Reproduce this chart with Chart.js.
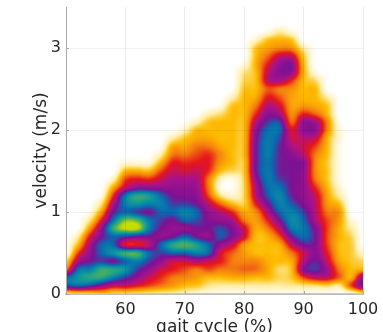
<!DOCTYPE html>
<html>
<head>
<meta charset="utf-8">
<script src="https://cdn.jsdelivr.net/npm/chart.js@4"></script>
<style>
	html, body { margin: 0; padding: 0; background: #fff; overflow: hidden; }
	#box { width: 383px; height: 332px; }
</style>
</head>
<body>
<div id="box"><canvas id="chartCanvas"></canvas></div>
<script>
// x 位置 (gait cycle %)
const gaitCycle = [50, 52, 54, 56, 58, 60, 62, 64, 66, 68, 70, 72, 74, 76, 78, 80, 82, 84, 86, 88, 90, 92, 94, 96, 98, 100];
// y 間距 (m/s),每欄第 i 個值對應 velocity = i * velocityStep
const velocityStep = 0.1;
const xTicks = [60, 70, 80, 90, 100];
const yTicks = [0, 1, 2, 3];

// 密度等級 0-10,從圖上估讀;每欄後面省略的都是 0
const density = [
	[1, 6.5, 7, 3, 1.5, 0],
	[1.5, 7, 8, 7, 5, 3.5, 2, 1, 0],
	[1.5, 6.5, 8.5, 7.5, 6, 5.5, 5, 4, 2.5, 1.2, 0.3],
	[2, 5.5, 8.5, 8.7, 6.5, 7, 7, 6, 5.5, 4, 2.5, 1.3, 0.4],
	[1.5, 4.5, 7.5, 8.5, 6, 8, 7, 7, 8.7, 7.2, 6, 5, 3.8, 2.3, 0.8],
	[1.5, 4.5, 6.5, 8, 7, 8.8, 4.2, 6.5, 10, 9.3, 7, 7.5, 7.3, 4.5, 3.5, 2, 0.5],
	[1.3, 4, 5.5, 6.5, 7.5, 8.8, 4.1, 6, 10, 9, 6.5, 8, 8.5, 5.5, 4, 2.2, 0.5],
	[1.2, 3.5, 4.5, 5.5, 6.5, 7, 4.8, 6, 7.5, 7.3, 6, 7.5, 8.2, 5.5, 3.8, 2, 0.5],
	[1, 3, 3.8, 4.5, 5.5, 6.5, 7, 5.5, 6, 6.5, 7, 7.5, 7, 5.5, 4.5, 3.5, 2.2, 1, 0.2],
	[1, 2.5, 3, 4, 4.5, 7, 8.5, 6, 5.5, 6, 7, 6.5, 6, 5.5, 5, 4.5, 4, 3, 2.3, 1],
	[0.8, 2, 2.8, 3.5, 4.5, 7, 9, 7, 5.5, 7, 7.6, 6.5, 5.8, 5.5, 5, 4.3, 3.8, 3, 2.3, 1.8, 0.8, 0.1],
	[0.5, 1.8, 2.5, 3, 5, 7.5, 8.3, 6, 6, 6.7, 7, 6, 5.6, 5.3, 5, 4.5, 4, 3.5, 3, 2.3, 2, 0.8],
	[0.4, 1.2, 2, 3.5, 4.5, 7, 7, 5.5, 6, 5.8, 5.5, 4.7, 3.5, 3, 3, 3.8, 4, 3.8, 3, 2.3, 2, 1.8, 0.8],
	[0.3, 1, 2, 3, 4, 4.3, 5.5, 6.8, 6.6, 5.5, 4.8, 3.2, 1.3, 0.4, 0.8, 2, 2.6, 2.8, 2.3, 2, 2, 2, 1.3, 0.3],
	[0.3, 1, 2.2, 3, 3, 3.3, 4.5, 5.8, 5.8, 5, 3.8, 2, 0.6, 0.2, 0.3, 1.5, 2, 2, 2, 2, 2, 2, 2, 1.8, 0.8, 0.1],
	[0.3, 1, 2.2, 3.2, 2.8, 2.5, 2.6, 4.3, 4.3, 3, 2.3, 1.6, 1.5, 1.5, 1.6, 1.8, 1.8, 2, 2, 2, 2, 2, 2, 2, 2, 1.8, 1.5, 1.2, 0.4],
	[0.3, 1, 2, 3.1, 2.8, 2, 2, 2, 2.3, 2.5, 2.8, 4, 4.8, 5, 5.5, 6, 6, 6, 6, 5.8, 5.5, 4.8, 3.8, 3, 2.3, 2, 2, 2, 2.2, 2, 1.8, 0.7],
	[0.3, 1, 2, 2.3, 2.2, 2, 2, 2.2, 3, 4, 5, 6, 6.8, 7.1, 7.3, 7.3, 7.2, 7.4, 7.4, 7.3, 7.1, 6.4, 5.6, 4.8, 4, 3.4, 4.6, 4.6, 4, 3.2, 2.4, 1.8, 0.3],
	[0.2, 1, 1.5, 1.4, 2, 2, 2.3, 3.5, 4.8, 6, 7, 7.5, 7.6, 7.2, 6.5, 6.2, 6.2, 6.2, 6.3, 6.6, 7, 6.5, 5, 4.2, 3.4, 3, 5, 5.7, 5.5, 4.5, 2.8, 2.1, 1],
	[0.2, 1.1, 1.8, 2, 2.3, 3, 4.5, 6, 7.3, 7.7, 7.5, 6.8, 6.2, 6, 6, 6, 6, 5.6, 5, 4.5, 4.2, 3.2, 2.7, 2.4, 2.4, 2.7, 3.8, 5.5, 5.7, 4.5, 2.7, 1.8, 0.4],
	[0.2, 1.2, 3.5, 5.6, 4.8, 4.5, 6, 7.1, 7.3, 7, 6.5, 5.8, 5.5, 5.5, 5.5, 5.5, 5.7, 4.7, 4.5, 4.8, 5.6, 5.4, 3.8, 2.5, 2.1, 2, 2, 2.2, 2.1, 1.8, 1],
	[0.2, 1.3, 4.5, 6.4, 6.1, 5.6, 5.8, 6, 5.8, 5, 4.8, 4.7, 4.5, 3.8, 3, 2.8, 2.8, 3, 3.6, 4.5, 5.6, 5.1, 3.2, 2.3, 2, 2, 1.4, 0.4],
	[0.1, 1.5, 4.5, 5.2, 4.5, 4, 3.6, 3.5, 3.6, 3.5, 3, 2.6, 2.4, 2.1, 1.8, 1.8, 1.7, 1.9, 2, 2.2, 2.8, 2.8, 2, 1.8, 1, 0.1],
	[0, 1.1, 3.3, 3, 2.4, 2.1, 2, 2.2, 2.2, 2.5, 2.6, 1.9, 1, 0.6, 0.3, 0.3, 0.3, 0.3, 0.3, 0.5, 0.5, 0.2],
	[0.2, 3.5, 2.2, 2, 1.8, 1.7, 1.7, 1.5, 1, 0.5, 0.1],
	[1.2, 5.8, 5.5, 2.2, 1.5, 0.6]
];

// 色階,對應等級 0-10
const colorStops = [
	[255, 255, 255], [255, 238, 170], [253, 187, 0], [244, 122, 16], [230, 21, 27],
	[168, 18, 138], [125, 17, 147], [10, 104, 176], [10, 149, 160], [74, 176, 96], [200, 220, 0]
];

function cubic(a, b, c, d, t) {
	return b + 0.5 * t * (c - a + t * (2 * a - 5 * b + 4 * c - d + t * (3 * (b - c) + d - a)));
}

function cell(i, j) {
	const col = density[Math.max(0, Math.min(density.length - 1, i))];
	return j < 0 ? col[0] : col[j] || 0;
}

// 依資料座標取密度等級
function levelAt(x, v) {
	const fx = (x - gaitCycle[0]) / (gaitCycle[1] - gaitCycle[0]);
	const fy = v / velocityStep;
	const i = Math.floor(fx);
	const j = Math.floor(fy);
	const rows = [];
	for (let k = -1; k <= 2; k++) {
		rows.push(cubic(cell(i - 1, j + k), cell(i, j + k), cell(i + 1, j + k), cell(i + 2, j + k), fx - i));
	}
	return cubic(rows[0], rows[1], rows[2], rows[3], fy - j);
}

// 用 scale 把每個像素換回資料座標再上色
const heatPlugin = {
	id: "heat",
	beforeDatasetsDraw(chart) {
		const { ctx, chartArea: area, scales } = chart;
		const w = Math.round(area.right - area.left);
		const h = Math.round(area.bottom - area.top);
		const img = ctx.createImageData(w, h);
		for (let py = 0; py < h; py++) {
			const v = scales.y.getValueForPixel(area.top + py + 0.5);
			for (let px = 0; px < w; px++) {
				const x = scales.x.getValueForPixel(area.left + px + 0.5);
				const lv = Math.max(0, Math.min(9.999, levelAt(x, Math.max(0, v))));
				const n = Math.floor(lv);
				const t = lv - n;
				const o = (py * w + px) * 4;
				for (let c = 0; c < 3; c++) {
					img.data[o + c] = colorStops[n][c] + (colorStops[n + 1][c] - colorStops[n][c]) * t;
				}
				img.data[o + 3] = 255;
			}
		}
		ctx.putImageData(img, Math.round(area.left), Math.round(area.top));
	},
	// 內側小刻度
	afterDraw(chart) {
		const { ctx, chartArea: area, scales } = chart;
		ctx.save();
		ctx.strokeStyle = "#a8a8a8";
		ctx.lineWidth = 1;
		ctx.beginPath();
		xTicks.forEach((t) => {
			const px = Math.round(scales.x.getPixelForValue(t)) + 0.5;
			ctx.moveTo(px, area.bottom);
			ctx.lineTo(px, area.bottom - 3);
		});
		yTicks.forEach((t) => {
			const py = Math.round(scales.y.getPixelForValue(t)) + 0.5;
			ctx.moveTo(area.left, py);
			ctx.lineTo(area.left + 3, py);
		});
		ctx.stroke();
		ctx.restore();
	},
};

const points = [];
gaitCycle.forEach((x, i) => {
	density[i].forEach((lv, j) => points.push({ x: x, y: j * velocityStep, level: lv }));
});

const textColor = "#262626";
const tickFont = { family: "DejaVu Sans", size: 16 };
const titleFont = { family: "DejaVu Sans", size: 17 };

new Chart(document.getElementById("chartCanvas"), {
	type: "scatter",
	data: { datasets: [{ data: points, pointRadius: 0 }] },
	plugins: [heatPlugin],
	options: {
		responsive: true,
		maintainAspectRatio: false,
		animation: false,
		layout: { padding: { top: 7, right: 20, left: 0, bottom: 0 } },
		plugins: { legend: { display: false }, tooltip: { enabled: false } },
		scales: {
			x: {
				type: "linear",
				min: 50,
				max: 100,
				afterBuildTicks(scale) {
					scale.ticks = [50].concat(xTicks).map((value) => ({ value }));
				},
				afterFit(scale) {
					scale.height = 38;
					scale.paddingLeft = 0;
					scale.paddingRight = 0;
				},
				ticks: {
					color: textColor,
					font: tickFont,
					padding: 6,
					maxRotation: 0,
					callback: (value) => (value === 50 ? "" : value),
				},
				grid: { color: "rgba(0,0,0,0.07)", z: 1, drawTicks: false },
				border: { color: "#c8c8c8", width: 2, z: 1 },
				title: {
					display: true,
					text: "gait cycle (%)",
					color: textColor,
					font: titleFont,
					padding: { top: 0, bottom: -6 },
				},
			},
			y: {
				min: 0,
				max: 3.5,
				afterBuildTicks(scale) {
					scale.ticks = yTicks.map((value) => ({ value }));
				},
				afterFit(scale) {
					scale.width = 66;
					scale.paddingTop = 0;
					scale.paddingBottom = 0;
				},
				ticks: { color: textColor, font: tickFont, padding: 5 },
				grid: { color: "rgba(0,0,0,0.05)", z: 1, drawTicks: false },
				border: { color: "#a8a8a8", width: 1, z: 1 },
				title: {
					display: true,
					text: "velocity (m/s)",
					color: textColor,
					font: titleFont,
					padding: { top: 31, bottom: 0 },
				},
			},
		},
	},
});
</script>
</body>
</html>
